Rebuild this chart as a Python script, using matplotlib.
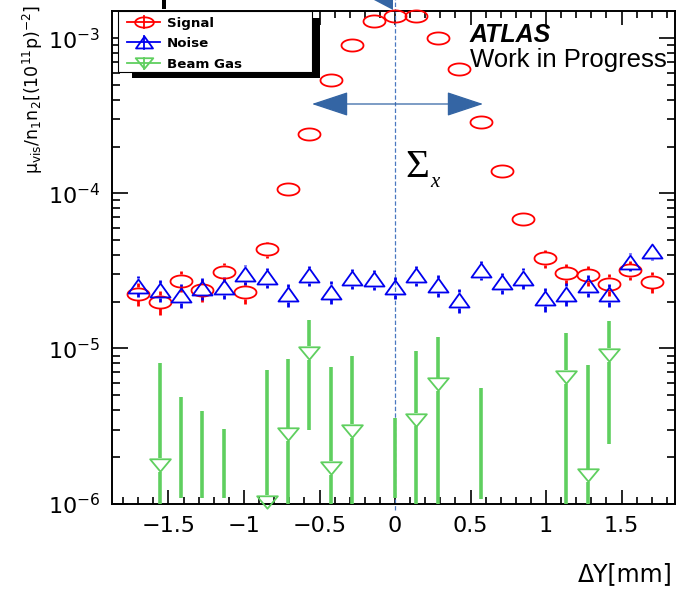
import numpy as np
import matplotlib
matplotlib.use("Agg")
import matplotlib.pyplot as plt
from matplotlib.path import Path
from matplotlib.patches import Rectangle, Polygon, FancyArrowPatch, ArrowStyle
from matplotlib.transforms import blended_transform_factory

nan = float("nan")

# ---------------- data ----------------
x_centers = [-1.700, -1.558, -1.417, -1.275, -1.133, -0.992, -0.850, -0.708, -0.567,
             -0.425, -0.283, -0.142, 0.000, 0.142, 0.283, 0.425, 0.567, 0.708,
             0.850, 0.992, 1.133, 1.275, 1.417, 1.558, 1.700]

signal = [2.26e-5, 2.00e-5, 2.73e-5, 2.38e-5, 3.12e-5, 2.31e-5, 4.35e-5, 1.06e-4, 2.40e-4,
          5.38e-4, 9.06e-4, 1.30e-3, 1.39e-3, 1.40e-3, 1.00e-3, 6.30e-4, 2.88e-4, 1.39e-4,
          6.80e-5, 3.81e-5, 3.05e-5, 2.97e-5, 2.60e-5, 3.20e-5, 2.69e-5]
signal_err = [3.8e-6, 3.6e-6, 4.2e-6, 3.9e-6, 4.5e-6, 3.8e-6, 5.3e-6, 8.2e-6, 1.24e-5,
              1.86e-5, 2.4e-5, 2.9e-5, 3.0e-5, 3.0e-5, 2.5e-5, 2.0e-5, 1.36e-5, 9.4e-6,
              6.6e-6, 4.9e-6, 4.4e-6, 4.4e-6, 4.1e-6, 4.5e-6, 4.1e-6]

noise = [2.54e-5, 2.37e-5, 2.21e-5, 2.44e-5, 2.48e-5, 3.02e-5, 2.87e-5, 2.24e-5, 2.97e-5,
         2.32e-5, 2.83e-5, 2.79e-5, 2.48e-5, 2.97e-5, 2.56e-5, 2.05e-5, 3.20e-5, 2.67e-5,
         2.86e-5, 2.10e-5, 2.26e-5, 2.56e-5, 2.24e-5, 3.62e-5, 4.25e-5]
noise_err = [4.0e-6, 3.9e-6, 3.8e-6, 4.0e-6, 4.0e-6, 4.4e-6, 4.3e-6, 3.8e-6, 4.4e-6,
             3.9e-6, 4.3e-6, 4.2e-6, 4.0e-6, 4.4e-6, 4.0e-6, 3.6e-6, 4.5e-6, 4.1e-6,
             4.3e-6, 3.7e-6, 3.8e-6, 4.0e-6, 3.8e-6, 4.8e-6, 5.2e-6]

# beam gas: marker value (nan = below axis / not drawn), error bar low / high (0 = below axis)
beamgas = [nan, 1.77e-6, nan, nan, nan, nan, 1.02e-6, 2.79e-6, 9.37e-6,
           1.70e-6, 2.93e-6, nan, nan, 3.48e-6, 5.86e-6, nan, nan, nan,
           nan, nan, 6.56e-6, 1.52e-6, 9.06e-6, nan, nan]
beamgas_low = [nan, 0.0, 1.08e-6, 1.08e-6, 1.08e-6, nan, 0.0, 0.0, 3.0e-6,
               0.0, 0.0, nan, 1.08e-6, 0.0, 0.0, nan, 1.07e-6, nan,
               nan, nan, 0.0, 0.0, 2.41e-6, nan, nan]
beamgas_high = [nan, 8.0e-6, 4.83e-6, 3.93e-6, 3.01e-6, nan, 7.24e-6, 8.6e-6, 1.52e-5,
                7.54e-6, 8.96e-6, nan, 3.57e-6, 9.66e-6, 1.18e-5, nan, 5.52e-6, nan,
                nan, nan, 1.25e-5, 7.8e-6, 1.51e-5, nan, nan]

x_tick_values = [-1.5, -1.0, -0.5, 0.0, 0.5, 1.0, 1.5]
x_tick_labels = ["\u22121.5", "\u22121", "\u22120.5", "0", "0.5", "1", "1.5"]
y_tick_values = [1e-6, 1e-5, 1e-4, 1e-3]
y_tick_labels = [r"$10^{-6}$", r"$10^{-5}$", r"$10^{-4}$", r"$10^{-3}$"]
legend_labels = ["Signal", "Noise", "Beam Gas"]

# ---------------- style ----------------
W, H, DPI = 679, 591, 100
RED = "#ff0000"
BLUE = "#0000ee"
GREEN = "#5fcf5f"
ARROW = "#3465a4"

plt.rcParams["font.family"] = ["DejaVu Sans"]
plt.rcParams["mathtext.fontset"] = "dejavusans"

fig = plt.figure(figsize=(W / DPI, H / DPI), dpi=DPI)
ax_l, ax_r, ax_t, ax_b = 112, 675, 11, 503.5
ax = fig.add_axes([ax_l / W, (H - ax_b) / H, (ax_r - ax_l) / W, (ax_b - ax_t) / H])
ax.set_yscale("log")
ax.set_xlim(-1.874, 1.854)
ax.set_ylim(1e-6, 1.5e-3)

for s in ax.spines.values():
    s.set_linewidth(1.4)

ax.set_xticks(x_tick_values, x_tick_labels)
ax.xaxis.set_minor_locator(matplotlib.ticker.MultipleLocator(0.1))
ax.set_yticks(y_tick_values, y_tick_labels)
ax.yaxis.set_minor_locator(matplotlib.ticker.LogLocator(base=10, subs=np.arange(2, 10)))
ax.yaxis.set_minor_formatter(matplotlib.ticker.NullFormatter())
ax.tick_params(which="both", direction="in", top=True, right=True, width=1.2)
ax.tick_params(axis="x", which="major", length=10, labelsize=16, pad=9)
ax.tick_params(axis="x", which="minor", length=5)
ax.tick_params(axis="y", which="major", length=11.5, labelsize=16, pad=8.5)
ax.tick_params(axis="y", which="minor", length=5.8)

# custom (horizontally stretched) markers
t = np.linspace(0, 2 * np.pi, 73)
ellipse = Path(np.c_[np.cos(t), 0.55 * np.sin(t)], closed=True)
tri_up = Path([(-1, -0.7), (1, -0.7), (0, 0.7), (-1, -0.7)], closed=True)
tri_dn = Path([(-1, 0.6), (1, 0.6), (0, -0.6), (-1, 0.6)], closed=True)
px2pt = 72.0 / DPI
circ_ms, up_ms, dn_ms = 22 * px2pt, 20 * px2pt, 20.7 * px2pt
circ_half, up_half, dn_half = 6.6, 7.6, 6.8


def draw_err(xs, ys, lo, hi, half_px, color, lw, z):
    tr = ax.transData
    inv = tr.inverted()
    ymin = ax.get_ylim()[0]
    for x, y, l, h in zip(xs, ys, lo, hi):
        if np.isnan(h):
            continue
        l = max(l, ymin * 0.9) if not np.isnan(l) else ymin * 0.9
        if np.isnan(y):
            ax.vlines(x, l, h, color=color, lw=lw, zorder=z)
            continue
        px, py = tr.transform((x, y))
        top = inv.transform((px, py + half_px))[1]
        bot = inv.transform((px, py - half_px))[1]
        if h > top:
            ax.vlines(x, top, h, color=color, lw=lw, zorder=z)
        if l < bot:
            ax.vlines(x, l, bot, color=color, lw=lw, zorder=z)


sig = np.array(signal); sige = np.array(signal_err)
noi = np.array(noise); noie = np.array(noise_err)
draw_err(x_centers, sig, sig - sige, sig + sige, circ_half, RED, 2.0, 3)
draw_err(x_centers, noi, noi - noie, noi + noie, up_half, BLUE, 2.0, 4)
draw_err(x_centers, np.array(beamgas), np.array(beamgas_low), np.array(beamgas_high),
         dn_half, GREEN, 2.6, 5)

ax.plot(x_centers, signal, ls="none", marker=ellipse, ms=circ_ms, mfc="none",
        mec=RED, mew=1.3, zorder=6, clip_on=False)
ax.plot(x_centers, noise, ls="none", marker=tri_up, ms=up_ms, mfc="none",
        mec=BLUE, mew=1.3, zorder=7, clip_on=False)
ax.plot(x_centers, beamgas, ls="none", marker=tri_dn, ms=dn_ms, mfc="none",
        mec=GREEN, mew=1.3, zorder=8, clip_on=False)

# dashed vertical line at 0
bt = blended_transform_factory(ax.transData, ax.transAxes)
ax.plot([0, 0], [-0.014, 1.03], transform=bt, color="#4a78c0", lw=0.9,
        dashes=(3.5, 1.8), clip_on=False, zorder=2)

# horizontal double arrow (Sigma_x)
arr = FancyArrowPatch((-0.55, 3.77e-4), (0.583, 3.77e-4),
                      arrowstyle=ArrowStyle("<|-|>", head_length=23.5, head_width=7.8),
                      color=ARROW, lw=0.9, shrinkA=0, shrinkB=0, mutation_scale=1,
                      clip_on=False, zorder=9)
ax.add_patch(arr)

# ---------------- overlay (pixel coordinates) ----------------
oax = fig.add_axes([0, 0, 1, 1], zorder=10)
oax.set_xlim(0, W)
oax.set_ylim(H, 0)
oax.axis("off")
oax.patch.set_alpha(0)

# cropped pieces at the top edge
oax.add_patch(Polygon([(374, 0), (393, 0), (393, 10)], closed=True, color=ARROW, lw=0))
oax.add_patch(Rectangle((162, 0), 3.5, 9, color="black", lw=0))

# legend with shadow
oax.add_patch(Rectangle((132, 18), 188, 60, facecolor="black", edgecolor="none"))
oax.add_patch(Rectangle((118, 11), 194, 61, facecolor="white", edgecolor="black", lw=0.8))
rows = [(22.0, 26.7), (42.3, 47.0), (63.3, 67.6)]
leg_style = [(RED, ellipse, circ_ms * 0.85, 5.6), (BLUE, tri_up, up_ms * 0.85, 6.4),
             (GREEN, tri_dn, dn_ms * 0.85, 5.8)]
for (yc, yb), (col, mk, ms, hh), lab in zip(rows, leg_style, legend_labels):
    oax.plot([127, 160], [yc, yc], color=col, lw=1.3)
    oax.plot([143.5, 143.5], [yc - hh, yc + hh], color=col, lw=1.3)
    oax.plot([143.5], [yc], marker=mk, ms=ms, mfc="none", mec=col, mew=1.3)
    oax.text(167, yb, lab, fontsize=9.6, fontweight="bold", ha="left", va="baseline")

# ATLAS label
oax.text(470, 42, "ATLAS", fontfamily="Liberation Sans", fontsize=18,
         fontweight="bold", fontstyle="italic", ha="left", va="baseline")
oax.text(470, 67.5, "Work in Progress", fontfamily="Liberation Sans", fontsize=18.5,
         ha="left", va="baseline")

# Sigma_x
oax.text(405, 177, "\u03a3", fontfamily="Liberation Serif", fontsize=29.5,
         ha="left", va="baseline")
oax.text(430, 187, "x", fontfamily="Liberation Serif", fontstyle="italic", fontsize=15,
         ha="left", va="baseline")

# axis titles
oax.text(673, 581, "\u0394Y[mm]", fontsize=17, ha="right", va="baseline")
oax.text(33, 90, r"$\mathrm{\mu_{vis}/n_{1}n_{2}[(10^{11}p)^{-2}]}$", fontsize=12.5,
         rotation=90, ha="center", va="center")

fig.savefig("out.png", dpi=DPI)
